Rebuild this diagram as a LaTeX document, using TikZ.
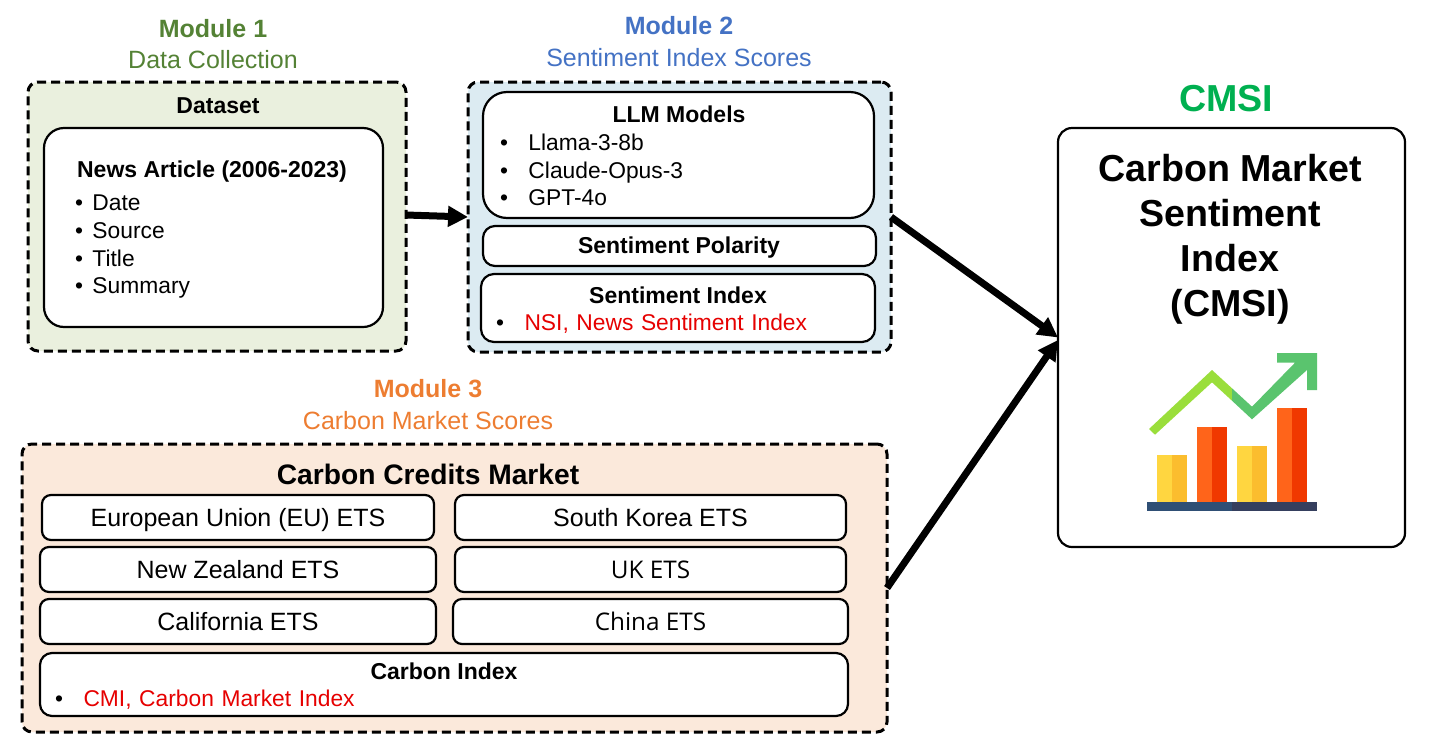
\documentclass[tikz,border=0pt]{standalone}
\usepackage{fontspec}
\setmainfont{Liberation Sans}
\newfontfamily\otherfont{Open Sans}
\usetikzlibrary{arrows.meta}
\definecolor{modonegreen}{HTML}{548235}
\definecolor{modtwoblue}{HTML}{4472C4}
\definecolor{modthreeorange}{HTML}{ED7D31}
\definecolor{cmsigreen}{HTML}{00B050}
\definecolor{fillone}{HTML}{EAF0DE}
\definecolor{filltwo}{HTML}{DCEBF2}
\definecolor{fillthree}{HTML}{FBE9DB}
\definecolor{indexred}{HTML}{E60000}
\definecolor{chartlime}{HTML}{9ADE3B}
\definecolor{chartgreen}{HTML}{5AC46E}
\definecolor{baryellow}{HTML}{FFD640}
\definecolor{baramber}{HTML}{FBBD2E}
\definecolor{barorange}{HTML}{FF641A}
\definecolor{barred}{HTML}{F03800}
\definecolor{baseblue}{HTML}{2F4F75}
\definecolor{basenavy}{HTML}{353F5E}
\newcommand{\fs}[2][27.7]{\fontsize{#2}{#1}\selectfont}
\newcommand{\bul}[1]{\makebox[#1][l]{\textbullet}}
\begin{document}
\begin{tikzpicture}[x=1pt,y=-1pt,
  every node/.style={inner sep=0pt,outer sep=0pt},
  module/.style={draw,line width=3pt,dash pattern=on 9pt off 5pt,rounded corners=10pt},
  inbox/.style={draw,line width=2.2pt,fill=white,rounded corners=9pt},
  etsbox/.style={inbox,minimum height=45pt,font=\fs{25},text height=18pt,text depth=0pt},
  bigarrow/.style={line width=7pt,-{Triangle[length=20pt,width=20pt]}},
  head/.style={font=\fs{25}\bfseries},
  sub/.style={font=\fs{25}},
  title/.style={font=\fs{23}\bfseries},
  items/.style={font=\fs{22.8},align=left,anchor=north west}]
  \path[use as bounding box] (0,0) rectangle (1430,753);
  % module 1
  \node[module,fill=fillone,minimum width=378pt,minimum height=269pt] (modone) at (217,216.5) {};
  \node[head,text=modonegreen] (modonehead) at (213,29) {Module 1};
  \node[sub,text=modonegreen] (modonesub) at (213,60) {Data Collection};
  \node[title] (dataset) at (218,106) {Dataset};
  \node[inbox,minimum width=339pt,minimum height=199pt,rounded corners=20pt] (news) at (213.5,227.5) {};
  \node[title] (newstitle) at (212,172) {News Article (2006-2023)};
  \node[items,text width=200pt] (newsitems) at (75,195) {\bul{17.5pt}Date\\\bul{17.5pt}Source\\\bul{17.5pt}Title\\\bul{17.5pt}Summary};
  % module 2
  \node[module,fill=filltwo,minimum width=423pt,minimum height=270pt] (modtwo) at (679.5,217) {};
  \node[head,text=modtwoblue] (modtwohead) at (679,26) {Module 2};
  \node[sub,text=modtwoblue] (modtwosub) at (679,58) {Sentiment Index Scores};
  \node[inbox,minimum width=391pt,minimum height=126pt,rounded corners=24pt] (llm) at (678.5,155) {};
  \node[title] (llmtitle) at (679,114) {LLM Models};
  \node[items,text width=300pt] (llmitems) at (500,134) {\bul{28.5pt}Llama-3-8b\\\bul{28.5pt}Claude-Opus-3\\\bul{28.5pt}GPT-4o};
  \node[inbox,minimum width=393pt,minimum height=40pt,rounded corners=12pt] (polarity) at (679.5,246) {};
  \node[title] (polaritytitle) at (679,248) {Sentiment Polarity};
  \node[inbox,minimum width=394pt,minimum height=68pt,rounded corners=13pt] (sentindex) at (678,308) {};
  \node[title] (sentindextitle) at (678,295) {Sentiment Index};
  \node[items,text width=350pt] (nsi) at (496,314) {\bul{28.5pt}\textcolor{indexred}{NSI, News Sentiment Index}};
  % module 3
  \node[module,fill=fillthree,minimum width=865pt,minimum height=288pt] (modthree) at (454.5,588) {};
  \node[head,text=modthreeorange] (modthreehead) at (428,389) {Module 3};
  \node[sub,text=modthreeorange] (modthreesub) at (428,421) {Carbon Market Scores};
  \node[font=\fs{28.2}\bfseries] (market) at (428,474) {Carbon Credits Market};
  \node[etsbox,minimum width=392pt] (eu) at (238,517.5) {European Union (EU) ETS};
  \node[etsbox,minimum width=391pt] (korea) at (650.5,517.5) {South Korea ETS};
  \node[etsbox,minimum width=396pt] (zealand) at (238,569.5) {New Zealand ETS};
  \node[etsbox,minimum width=391pt,font=\fs{24.3}\otherfont] (uk) at (650.5,569.5) {UK ETS};
  \node[etsbox,minimum width=396pt] (california) at (238,621.5) {California ETS};
  \node[etsbox,minimum width=395pt,font=\fs{24.3}\otherfont] (china) at (650.5,621.5) {China ETS};
  \node[inbox,minimum width=808pt,minimum height=63pt,rounded corners=12pt] (carbonindex) at (444,684.5) {};
  \node[title] (carbonindextitle) at (444,671) {Carbon Index};
  \node[items,text width=350pt] (cmi) at (55,690) {\bul{28.5pt}\textcolor{indexred}{CMI, Carbon Market Index}};
  % cmsi box
  \node[font=\fs{37.6}\bfseries,text=cmsigreen] (cmsihead) at (1226,99) {CMSI};
  \node[inbox,minimum width=347pt,minimum height=419pt,rounded corners=14pt] (cmsi) at (1231.5,337.5) {};
  \node[font={\fs[45]{37.6}\bfseries},align=center] (cmsitext) at (1230,239) {Carbon Market\\Sentiment\\Index\\(CMSI)};
  % arrows
  \draw[bigarrow] ([yshift=1.5pt]modone.east) -- (modtwo.west);
  \draw[bigarrow] (modtwo.east) -- (cmsi.west);
  \draw[bigarrow] (modthree.east) -- ([yshift=-2.5pt]cmsi.west);
  % chart
  \fill[baryellow] (1157,455) rectangle (1172,502);
  \fill[baramber] (1172,455) rectangle (1187,502);
  \fill[barorange] (1197,427) rectangle (1212,502);
  \fill[barred] (1212,427) rectangle (1227,502);
  \fill[baryellow] (1237,446) rectangle (1252,502);
  \fill[baramber] (1252,446) rectangle (1267,502);
  \fill[barorange] (1277,408) rectangle (1292,502);
  \fill[barred] (1292,408) rectangle (1307,502);
  \fill[baseblue] (1147,502) rectangle (1232,511);
  \fill[basenavy] (1232,502) rectangle (1317,511);
  \fill[chartlime] (1149,429) -- (1212,370) -- (1232,388.3) -- (1232,400.7) -- (1212,382.3) -- (1155,434.7) -- cycle;
  \fill[chartgreen] (1232,388.3) -- (1252,406.7) -- (1295,362.7) -- (1277,362.7) -- (1277,353) -- (1317,353) -- (1317,390) -- (1307,390) -- (1307,370) -- (1252,419.3) -- (1232,400.7) -- cycle;
\end{tikzpicture}
\end{document}
